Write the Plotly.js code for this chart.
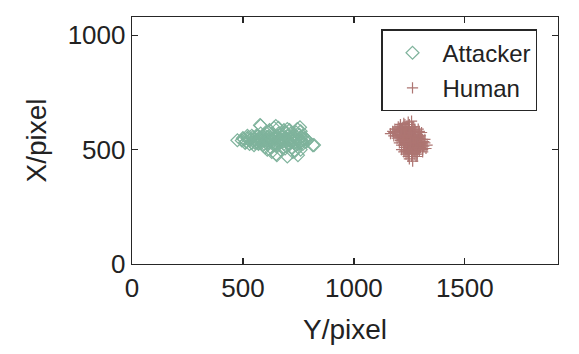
<!DOCTYPE html>
<html><head><meta charset="utf-8">
<script src="https://cdn.plot.ly/plotly-3.0.1.min.js"></script>
<style>html,body{margin:0;padding:0;background:#fff}#chart{width:579px;height:354px}</style>
</head><body><div id="chart"></div>
<script>
// Attacker cluster: Y/pixel (horizontal) and X/pixel (vertical)
const attackerY = [495,505,515,520,530,540,545,550,560,565,570,575,580,585,590,595,600,605,610,615,620,625,630,635,640,645,650,655,660,665,670,675,680,685,690,695,700,705,710,715,720,725,730,735,740,745,750,755,760,765,770,780,790,815,
  560,600,640,680,720,700,660,620,580,540,610,690,740,760,650,630,700,735,760,475,577,648,757,653,748,820,
  510,525,535,555,565,575,590,600,615,625,635,645,655,665,675,685,695,705,715,725,735,745,755,765,775,
  520,550,580,610,640,670,700,730,760,530,570,630,690,750,785,500,545,595,650,710,770];
const attackerX = [540,545,535,550,540,530,555,545,535,560,525,550,605,540,520,565,545,530,555,575,540,510,560,545,595,530,550,520,570,540,500,555,535,585,545,515,560,540,525,570,550,490,540,560,520,590,545,530,555,540,525,550,540,520,
  560,510,520,565,510,590,595,585,570,560,500,505,575,580,480,490,470,495,500,541,607,603,598,476,476,520,
  530,555,545,530,545,540,550,540,530,550,535,545,560,530,545,525,550,530,545,535,550,540,565,530,545,
  560,520,550,540,555,535,545,530,540,525,530,570,575,545,535,550,540,525,515,585,560];

// Human cluster
const humanY = [1165,1175,1180,1185,1190,1195,1200,1200,1205,1210,1210,1215,1220,1220,1225,1225,1230,1230,1235,1235,1240,1240,1245,1245,1250,1250,1255,1255,1260,1260,1260,1265,1265,1265,1270,1270,1275,1275,1280,1280,1285,1285,1290,1290,1295,1295,1300,1300,1305,1310,1310,1315,1320,1325,1330,
  1215,1225,1235,1245,1250,1255,1260,1270,1275,1280,1240,1230,1220,1250,1290,1285,1270,1245,1235,1225,1215,1265,1275,1255,1240,1230,1210,1300,1305,1295,1250,1280,1230,1245,1265,1260,
  1205,1215,1225,1235,1245,1255,1265,1275,1285,1295,1205,1215,1225,1235,1245,1255,1265,1275,1285,1295,
  1210,1220,1230,1240,1250,1260,1270,1280,1290,1300,1210,1220,1230,1240,1250,1260,1270,1280,1290,1300,
  1215,1235,1255,1275,1295,1225,1245,1265,1285,1190,1195,1180,1315,1310,1320];
const humanX = [570,580,560,590,575,550,600,565,585,540,610,575,555,595,520,615,545,580,500,600,560,530,620,485,545,590,510,570,625,470,540,500,600,450,560,520,480,585,540,500,565,470,520,590,545,495,510,560,530,490,545,515,530,505,520,
  520,560,540,515,500,530,580,600,540,520,600,610,580,610,550,505,490,470,480,490,500,515,555,555,575,595,585,530,575,580,460,470,510,545,565,600,
  555,565,575,585,595,560,540,530,520,510,530,540,550,560,570,520,510,495,480,530,
  600,590,525,545,520,505,545,575,535,520,565,545,495,490,575,555,530,510,500,545,
  590,560,530,590,560,535,500,485,550,560,590,575,535,500,545];

const legendNames = ['Attacker','Human'];
const colors = ['#7fb39c','#ad7572'];

const traces = [
  {x: attackerY, y: attackerX, type:'scatter', mode:'markers', name: legendNames[0], legendgroup:'a',
   marker:{symbol:'diamond-open', size:10, color:colors[0], line:{width:1.2, color:colors[0]}}},
  {x: humanY, y: humanX, type:'scatter', mode:'markers', name: legendNames[1], legendgroup:'h',
   marker:{symbol:'cross-thin-open', size:8, color:colors[1], line:{width:1.2, color:colors[1]}}}
];

const axisCommon = {
  showgrid:false, zeroline:false, showline:true, linecolor:'#262626', linewidth:1.3,
  mirror:'ticks', ticks:'inside', ticklen:6, tickwidth:1.3, tickcolor:'#262626',
  tickfont:{family:'Liberation Sans, Arial, sans-serif', size:26, color:'#222'}
};

const layout = {
  width:579, height:354,
  margin:{l:132, r:21, t:17, b:90},
  paper_bgcolor:'#fff', plot_bgcolor:'#fff',
  font:{family:'Liberation Sans, Arial, sans-serif', color:'#222'},
  showlegend:true,
  legend:{x:0.585, y:0.95, xanchor:'left', yanchor:'top', bordercolor:'#262626', borderwidth:1.3,
    bgcolor:'#fff', font:{size:24, color:'#222'}, itemwidth:50, tracegroupgap:1, traceorder:'grouped'},
  xaxis: Object.assign({}, axisCommon, {range:[0,1920], tickvals:[0,500,1000,1500],
    title:{text:'Y/pixel', font:{size:28, color:'#222'}, standoff:18}}),
  yaxis: Object.assign({}, axisCommon, {range:[0,1080], tickvals:[0,500,1000],
    title:{text:'X/pixel', font:{size:28, color:'#222'}, standoff:13}})
};

Plotly.newPlot('chart', traces, layout, {displayModeBar:false, staticPlot:true});
</script></body></html>
